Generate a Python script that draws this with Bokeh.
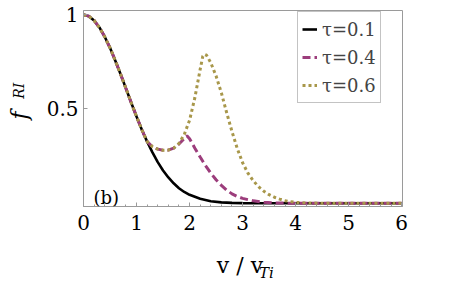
from bokeh.plotting import figure
from bokeh.models import Range1d, FixedTicker, Label, Legend, LegendItem, LinearAxis
from bokeh.embed import file_html
from bokeh.resources import INLINE

# ---- data ----
v_black = [0, 0.1, 0.2, 0.3, 0.4, 0.5, 0.6, 0.7, 0.8, 0.9, 1.0, 1.1, 1.2, 1.3, 1.4, 1.5,
           1.6, 1.7, 1.8, 1.9, 2.0, 2.2, 2.4, 2.6, 2.8, 3.0, 3.5, 4.0, 5.0, 6.0]
f_black = [1.0, 0.992, 0.969, 0.932, 0.883, 0.824, 0.756, 0.684, 0.609, 0.533, 0.46, 0.39,
           0.327, 0.27, 0.218, 0.174, 0.137, 0.106, 0.08, 0.06, 0.045, 0.024, 0.011, 0.005,
           0.002, 0.001, 0, 0, 0, 0]

v_mag = [0, 0.1, 0.2, 0.3, 0.4, 0.5, 0.6, 0.7, 0.8, 0.9, 1.0, 1.1, 1.2, 1.3, 1.4, 1.5,
         1.6, 1.7, 1.8, 1.9, 1.95, 2.0, 2.1, 2.2, 2.3, 2.4, 2.5, 2.6, 2.7, 2.8, 2.9, 3.0,
         3.2, 3.4, 3.6, 4.0, 5.0, 6.0]
f_mag = [1.0, 0.992, 0.969, 0.932, 0.883, 0.824, 0.756, 0.684, 0.609, 0.533, 0.46, 0.39,
         0.327, 0.300, 0.287, 0.281, 0.282, 0.292, 0.314, 0.343, 0.358, 0.342, 0.292, 0.245,
         0.2, 0.16, 0.125, 0.095, 0.07, 0.05, 0.036, 0.026, 0.013, 0.006, 0.002, 0, 0, 0]

v_gold = [0, 0.1, 0.2, 0.3, 0.4, 0.5, 0.6, 0.7, 0.8, 0.9, 1.0, 1.1, 1.2, 1.3, 1.4, 1.5,
          1.6, 1.7, 1.8, 1.9, 2.0, 2.1, 2.2, 2.25, 2.28, 2.32, 2.4, 2.5, 2.6, 2.7, 2.8, 2.9,
          3.0, 3.1, 3.2, 3.3, 3.4, 3.5, 3.6, 3.7, 3.8, 3.9, 4.0, 4.2, 4.5, 5.0, 6.0]
f_gold = [1.0, 0.992, 0.969, 0.932, 0.883, 0.824, 0.756, 0.684, 0.609, 0.533, 0.46, 0.39,
          0.327, 0.300, 0.287, 0.281, 0.282, 0.292, 0.318, 0.365, 0.44, 0.56, 0.71, 0.78,
          0.79, 0.785, 0.745, 0.675, 0.585, 0.48, 0.38, 0.29, 0.215, 0.16, 0.12, 0.088,
          0.064, 0.046, 0.032, 0.022, 0.014, 0.009, 0.005, 0.002, 0, 0, 0]

series_labels = ["τ=0.1", "τ=0.4", "τ=0.6"]
x_ticks = [0, 1, 2, 3, 4, 5, 6]
x_minor = [round(0.2 * i, 1) for i in range(31)]
y_ticks = [0.5, 1]
y_tick_labels = ["0.5", "1"]
x_title, x_title_sub = "v / v", "Ti"
y_title, y_title_sub = "f", "RI"

SERIF = "DejaVu Serif"
GRAY = "#9a9a9a"
NBSP = "\u00a0"

p = figure(width=454, height=284, output_backend="svg", toolbar_location=None,
           x_range=Range1d(0, 6.015), y_range=Range1d(-0.017, 1.022),
           min_border_left=83, min_border_right=52, min_border_top=10, min_border_bottom=77)
p.xgrid.visible = False
p.ygrid.visible = False
p.outline_line_color = GRAY
p.outline_line_width = 1
p.background_fill_color = "white"
p.border_fill_color = "white"

r1 = p.line(v_black, f_black, line_color="black", line_width=2.6)
r2 = p.line(v_mag, f_mag, line_color="#9C3D7C", line_width=3, line_dash="8 4")
r3 = p.line(v_gold, f_gold, line_color="#A8974A", line_width=3, line_dash="3 3")

for ax in (p.xaxis[0], p.yaxis[0]):
    ax.axis_line_color = GRAY
    ax.major_tick_line_color = GRAY
    ax.minor_tick_line_color = GRAY
    ax.major_tick_in = 4
    ax.major_tick_out = 0
    ax.minor_tick_in = 2
    ax.minor_tick_out = 0
    ax.major_label_text_font = SERIF
    ax.major_label_text_font_size = "20px"
    ax.major_label_text_color = "black"

p.xaxis.ticker = FixedTicker(ticks=x_ticks, minor_ticks=x_minor)
p.xaxis.major_label_overrides = {t: str(t) for t in x_ticks}
p.xaxis.major_label_standoff = 8
p.yaxis.ticker = FixedTicker(ticks=y_ticks, minor_ticks=[])
p.yaxis.major_label_overrides = dict(zip(y_ticks, y_tick_labels))
p.yaxis.major_label_standoff = 5

# y title subscript as the main y axis label (rotated), lifted with leading spaces
p.yaxis.axis_label = NBSP * 8 + y_title_sub
p.yaxis.axis_label_text_font = SERIF
p.yaxis.axis_label_text_font_size = "14px"
p.yaxis.axis_label_text_font_style = "italic"
p.yaxis.axis_label_text_color = "black"
p.yaxis.axis_label_standoff = 17


def title_axis(tick, text, size, style, standoff):
    ax = LinearAxis(ticker=FixedTicker(ticks=[tick], minor_ticks=[]),
                    major_label_overrides={tick: text})
    ax.axis_line_color = None
    ax.major_tick_line_color = None
    ax.minor_tick_line_color = None
    ax.major_tick_in = 0
    ax.major_tick_out = 0
    ax.minor_tick_in = 0
    ax.minor_tick_out = 0
    ax.major_label_text_font = SERIF
    ax.major_label_text_font_size = size
    ax.major_label_text_font_style = style
    ax.major_label_text_color = "black"
    ax.major_label_standoff = standoff
    return ax


# x axis title: "v / v" with subscript "Ti"
p.add_layout(title_axis(2.95, x_title, "22px", "normal", 20), "below")
p.add_layout(title_axis(3.45, x_title_sub, "15px", "italic", -17), "below")

# y axis title "f": label of an extra, tick-less left axis (nudged down with trailing spaces)
fax = LinearAxis(ticker=FixedTicker(ticks=[], minor_ticks=[]))
fax.axis_line_color = None
fax.major_tick_line_color = None
fax.minor_tick_line_color = None
fax.major_tick_out = 0
fax.major_tick_in = 0
fax.major_label_standoff = 0
fax.axis_label = y_title + NBSP * 2
fax.axis_label_text_font = SERIF
fax.axis_label_text_font_size = "22px"
fax.axis_label_text_font_style = "italic"
fax.axis_label_text_color = "black"
fax.axis_label_standoff = -24
p.add_layout(fax, "left")

legend = Legend(items=[LegendItem(label=series_labels[0], renderers=[r1]),
                       LegendItem(label=series_labels[1], renderers=[r2]),
                       LegendItem(label=series_labels[2], renderers=[r3])],
                location=(214, 103))
legend.label_text_font = SERIF
legend.label_text_font_size = "18px"
legend.label_height = 26
legend.glyph_height = 26
legend.glyph_width = 15
legend.label_standoff = 5
legend.spacing = 2
legend.padding = 4
legend.margin = 0
legend.border_line_color = "#888888"
legend.border_line_width = 1
legend.background_fill_alpha = 1
p.add_layout(legend)

# panel tag
p.add_layout(Label(x=0.19, y=0.03, text="(b)", text_font=SERIF,
                   text_baseline="alphabetic", text_font_size="18px", text_color="black"))

open("out.html", "w").write(file_html(p, INLINE))
